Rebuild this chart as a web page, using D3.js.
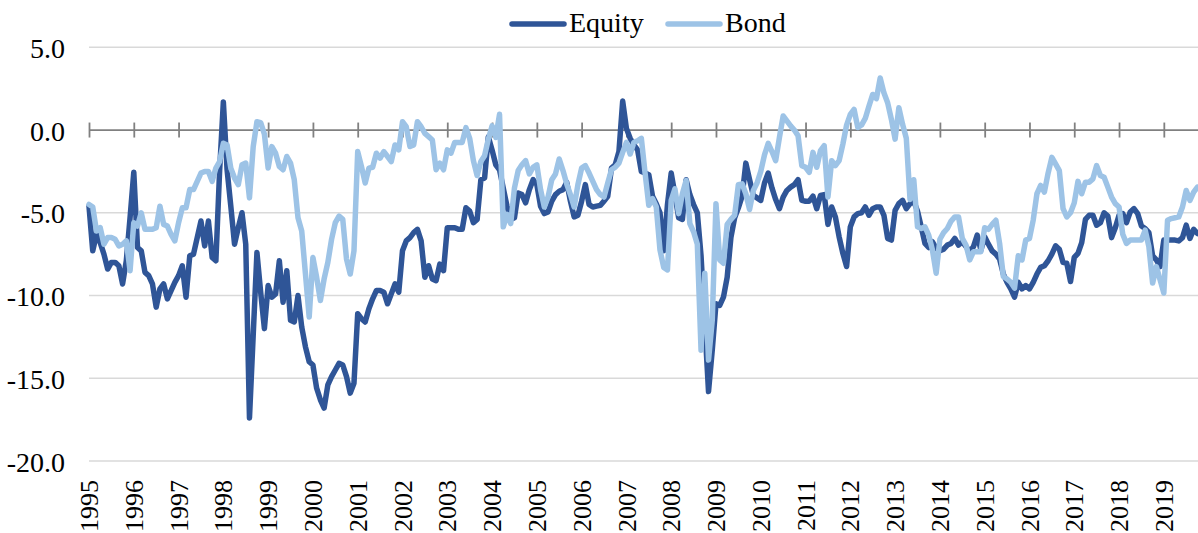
<!DOCTYPE html>
<html>
<head>
<meta charset="utf-8">
<script src="https://cdn.jsdelivr.net/npm/d3@7"></script>
<style>
  body { margin: 0; background: #fff; }
  svg { display: block; }
</style>
</head>
<body>
<svg id="svg" width="1198" height="533"></svg>
<script>
// monthly values, Jan 1995 .. Oct 2019 (one row per year)
const equity = [
  -4.6, -7.3, -6.3, -6.8, -7.5, -8.4, -8.0, -8.0, -8.2, -9.3, -7.9, -5.3,
  -2.55, -7.1, -7.3, -8.6, -8.8, -9.3, -10.7, -9.6, -9.3, -10.2, -9.7, -9.2,
  -8.8, -8.2, -10.1, -7.6, -7.5, -6.5, -5.5, -7.0, -5.5, -7.7, -7.9, -2.45,
  1.7, -2.4, -4.6, -6.9, -5.9, -5.0, -6.9, -17.4, -12.4, -7.4, -9.8, -12.0,
  -9.4, -10.1, -9.9, -7.9, -10.4, -8.5, -11.5, -11.6, -10.0, -11.9, -13.1, -14.0,
  -14.2, -15.6, -16.3, -16.8, -15.4, -14.9, -14.5, -14.1, -14.2, -14.9, -15.9, -15.3,
  -11.1, -11.4, -11.6, -10.8, -10.2, -9.7, -9.7, -9.8, -10.5, -9.9, -9.3, -9.8,
  -7.3, -6.7, -6.5, -6.2, -6.0, -6.7, -8.9, -8.2, -9.0, -9.1, -8.1, -8.5,
  -5.9, -5.9, -5.9, -6.0, -6.0, -4.7, -4.9, -5.6, -5.4, -3.0, -2.9, -0.4,
  -1.2, -2.1, -2.4, -3.5, -4.6, -5.4, -5.3, -3.8, -3.9, -4.4, -3.6, -3.0,
  -3.3, -4.6, -5.05, -4.95, -4.3, -3.9, -3.7, -3.6, -3.15, -4.3, -5.25, -5.15,
  -4.3, -3.3, -4.5, -4.65, -4.6, -4.55, -4.3, -4.0, -2.3, -2.1, -1.3, 1.75,
  0.1, -0.5, -0.9, -1.2, -2.5, -2.6, -2.7, -4.0, -4.45, -5.0, -7.3, -4.5,
  -2.6, -3.9, -5.3, -5.4, -3.0, -3.9, -4.5, -5.0, -7.6, -11.7, -15.8, -13.3,
  -10.5, -10.6, -10.1, -8.9, -6.5, -5.3, -4.7, -4.0, -2.0, -3.0, -3.95, -4.1,
  -4.25, -3.2, -2.6, -3.5, -4.2, -4.75, -4.05, -3.65, -3.45, -3.3, -3.0, -4.25,
  -4.3, -4.3, -4.0, -4.75, -3.95, -3.9, -5.7, -4.65, -5.25, -6.45, -7.45, -8.25,
  -5.85, -5.25, -5.05, -5.0, -4.65, -5.15, -4.75, -4.65, -4.65, -5.15, -6.55, -6.65,
  -4.85, -4.45, -4.25, -4.75, -4.45, -4.3, -4.9, -5.85, -6.85, -7.1, -6.75, -7.15,
  -7.3, -7.2, -6.95, -6.85, -6.55, -6.95, -6.75, -7.05, -7.35, -7.05, -6.35, -7.25,
  -6.45, -6.9, -7.3, -7.5, -7.8, -8.7, -9.2, -9.6, -10.1, -9.2, -9.6, -9.4,
  -9.6, -9.2, -8.7, -8.3, -8.2, -7.9, -7.5, -7.0, -7.2, -8.0, -8.05, -9.15,
  -7.7, -7.45, -6.8, -5.4, -5.15, -5.15, -5.75, -5.6, -5.0, -5.2, -6.5, -5.9,
  -5.15, -5.05, -5.6, -4.95, -4.75, -5.05, -5.8, -5.95, -6.2, -7.6, -7.85, -8.25,
  -6.65, -6.65, -6.65, -6.65, -6.7, -6.5, -5.75, -6.55, -6.0, -6.25
];
const bond = [
  -4.5, -4.65, -6.1, -5.9, -6.9, -6.5, -6.5, -6.6, -7.0, -6.9, -6.7, -8.5,
  -5.6, -5.8, -5.0, -6.0, -6.0, -6.0, -5.9, -4.6, -5.7, -5.8, -6.3, -6.7,
  -5.6, -4.7, -4.7, -3.6, -3.6, -3.1, -2.6, -2.5, -2.5, -3.1, -2.3, -1.9,
  -0.8, -0.9, -2.3, -2.9, -3.3, -2.1, -2.0, -4.1, -1.0, 0.5, 0.45, -0.25,
  -2.3, -1.0, -1.4, -2.2, -2.4, -1.6, -2.0, -3.0, -5.3, -6.1, -8.7, -11.3,
  -7.7, -8.9, -10.3, -9.0, -8.0, -6.6, -5.6, -5.2, -5.4, -7.8, -8.7, -7.3,
  -1.3, -2.2, -3.2, -2.3, -2.25, -1.4, -1.7, -1.3, -1.6, -1.9, -0.9, -1.2,
  0.5, 0.2, -1.0, -0.9, 0.5, 0.2, -0.2, -0.4, -0.6, -2.4, -2.0, -2.4,
  -1.2, -1.4, -0.75, -0.75, -0.75, 0.15, -0.5, -1.85, -2.75, -1.9, -1.55, -0.55,
  0.25, -0.45, 0.95, -5.85, -5.1, -5.65, -3.5, -2.45, -2.1, -1.85, -2.65, -2.25,
  -2.1, -3.6, -4.65, -4.05, -3.0, -2.65, -1.75, -2.45, -3.25, -3.9, -4.65, -3.3,
  -2.3, -2.15, -2.6, -3.1, -3.6, -3.9, -4.05, -3.2, -2.4, -2.25, -2.0, -1.35,
  -0.75, -1.45, -0.75, -0.65, -0.5, -2.6, -4.55, -4.15, -4.65, -7.25, -8.3, -8.45,
  -4.25, -3.55, -5.05, -3.85, -3.05, -5.65, -6.15, -6.9, -13.3, -8.65, -13.9, -11.5,
  -4.45, -7.85, -8.05, -5.7, -5.4, -5.15, -3.3, -3.25, -3.85, -4.8, -3.65, -3.2,
  -2.5, -1.5, -0.8, -1.3, -1.85, -0.45, 0.85, 0.55, 0.25, 0.0, -0.35, -2.15,
  -2.25, -2.55, -1.35, -2.25, -1.25, -0.95, -4.05, -1.85, -2.15, -1.85, -0.85, 0.3,
  0.95, 1.25, 0.15, 0.3, 0.7, 1.45, 2.15, 1.9, 3.15, 2.25, 1.65, 0.65,
  -0.55, 1.35, 0.35, -0.5, -4.2, -3.0, -5.85, -5.95, -5.85, -6.35, -7.25, -8.65,
  -6.6, -6.2, -5.95, -5.5, -5.25, -5.25, -6.55, -6.95, -7.85, -7.35, -7.35, -7.35,
  -5.9, -6.0, -5.7, -5.45, -6.85, -8.85, -9.0, -9.2, -9.55, -7.6, -7.85, -6.65,
  -6.55, -5.45, -3.85, -3.35, -3.75, -2.6, -1.65, -2.05, -2.45, -4.75, -5.25, -5.0,
  -4.4, -3.1, -3.85, -3.15, -3.15, -2.95, -2.15, -2.75, -2.85, -3.45, -4.05, -4.45,
  -4.65, -6.3, -6.85, -6.65, -6.65, -6.65, -6.65, -6.05, -7.05, -9.25, -8.25, -9.05,
  -9.85, -5.45, -5.35, -5.3, -5.25, -4.65, -3.65, -4.25, -3.75, -3.45
];
const yearLabels = ["1995", "1996", "1997", "1998", "1999", "2000", "2001", "2002",
  "2003", "2004", "2005", "2006", "2007", "2008", "2009", "2010", "2011", "2012",
  "2013", "2014", "2015", "2016", "2017", "2018", "2019"];
const yTicks = [5, 0, -5, -10, -15, -20];
const seriesNames = ["Equity", "Bond"];
const colors = ["#2F5597", "#9DC3E6"];

// layout
const dims = { width: 1198, height: 533 };
const plot = { left: 89, right: 1198, top: 47.3, bottom: 461 };
const font = "'Liberation Serif', 'Times New Roman', serif";

const xScale = d3.scaleLinear()
  .domain([0, equity.length - 1])
  .range([plot.left, plot.left + (equity.length - 1) * 3.732]);
const yScale = d3.scaleLinear()
  .domain([-20, 5])
  .range([plot.bottom, plot.top]);

const mySvg = d3.select("#svg");

// gridlines (0 is drawn as the axis)
mySvg.append("g")
  .selectAll("line")
  .data(yTicks.filter(d => d !== 0))
  .enter().append("line")
  .attr("x1", plot.left).attr("x2", plot.right)
  .attr("y1", d => yScale(d)).attr("y2", d => yScale(d))
  .attr("stroke", "#d9d9d9").attr("stroke-width", 1.5);

// y labels
const yAxis = d3.axisLeft(yScale)
  .tickValues(yTicks)
  .tickFormat(d => d.toFixed(1))
  .tickSize(0)
  .tickPadding(24);
const gy = mySvg.append("g")
  .attr("transform", `translate(${plot.left},0)`)
  .call(yAxis);
gy.select(".domain").remove();
gy.selectAll("text")
  .attr("font-family", font).attr("font-size", 28).attr("fill", "#000")
  .attr("dy", "0.36em");

// zero axis with crossing ticks
const yearTicks = yearLabels.map((d, i) => i * 12);
const xAxis = d3.axisBottom(xScale)
  .tickValues(yearTicks)
  .tickFormat("")
  .tickSizeOuter(0);
const gx = mySvg.append("g")
  .attr("transform", `translate(0,${yScale(0)})`)
  .call(xAxis);
gx.select(".domain")
  .attr("d", `M${plot.left},0H${plot.right}`)
  .attr("stroke", "#808080").attr("stroke-width", 1.8);
gx.selectAll(".tick line")
  .attr("y1", -7.5).attr("y2", 7.5)
  .attr("stroke", "#808080").attr("stroke-width", 1.8);

// year labels along the bottom
const xLabels = d3.axisBottom(xScale)
  .tickValues(yearTicks)
  .tickFormat((d, i) => yearLabels[i])
  .tickSize(0);
const gl = mySvg.append("g")
  .attr("transform", "translate(0,480)")
  .call(xLabels);
gl.select(".domain").remove();
gl.selectAll("text")
  .attr("font-family", font).attr("font-size", 26).attr("fill", "#000")
  .attr("transform", "rotate(-90)")
  .attr("x", 0).attr("y", 0).attr("dy", "0.33em")
  .style("text-anchor", "end");

// lines
const line = d3.line()
  .x((d, i) => xScale(i))
  .y(d => yScale(d));

[equity, bond].forEach((series, k) => {
  mySvg.append("path")
    .datum(series)
    .attr("d", line)
    .attr("fill", "none")
    .attr("stroke", colors[k])
    .attr("stroke-width", 5.5)
    .attr("stroke-linejoin", "round")
    .attr("stroke-linecap", "round");
});

// legend
const legendX = [512, 668];
const legend = mySvg.append("g");
seriesNames.forEach((name, k) => {
  legend.append("line")
    .attr("x1", legendX[k]).attr("x2", legendX[k] + 52)
    .attr("y1", 24).attr("y2", 24)
    .attr("stroke", colors[k]).attr("stroke-width", 5.5)
    .attr("stroke-linecap", "round");
  legend.append("text")
    .attr("x", legendX[k] + 57).attr("y", 32)
    .attr("font-family", font).attr("font-size", 28).attr("fill", "#000")
    .text(name);
});
</script>
</body>
</html>
